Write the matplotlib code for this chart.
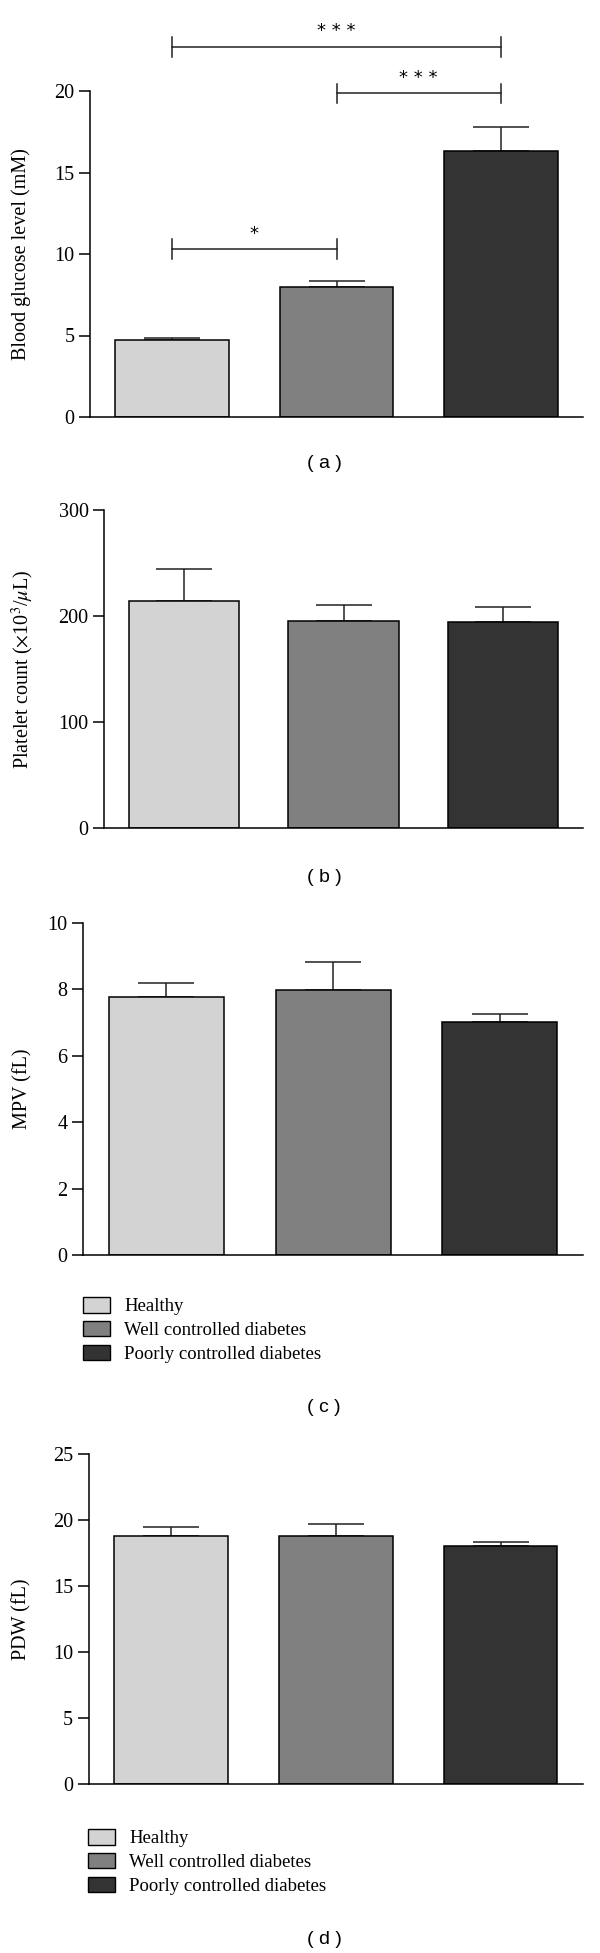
import matplotlib
matplotlib.use('Agg')
import matplotlib.pyplot as plt
from matplotlib.patches import Patch

plt.rcParams['font.family'] = 'Liberation Serif'
plt.rcParams['mathtext.fontset'] = 'stix'

groups = ['Healthy', 'Well controlled diabetes', 'Poorly controlled diabetes']
colors = ['#d3d3d3', '#808080', '#333333']

glucose = [4.71, 7.98, 16.32]
glucose_err = [0.16, 0.35, 1.49]
platelet = [214.4, 195.5, 193.9]
platelet_err = [30.2, 15.1, 14.8]
mpv = [7.76, 7.98, 7.01]
mpv_err = [0.44, 0.84, 0.25]
pdw = [18.82, 18.82, 18.05]
pdw_err = [0.65, 0.91, 0.27]

# significance brackets for panel (a): (from, to, label, height)
brackets = [(0, 1, '*', 10.3), (1, 2, '* * *', 19.86), (0, 2, '* * *', 22.7)]

W, H = 600, 1953
fig = plt.figure(figsize=(W / 100, H / 100), dpi=100)


def panel(left, right, top, bottom, vals, errs, ymax, step, ylabel, labx):
    ax = fig.add_axes([left / W, 1 - bottom / H, (right - left) / W, (bottom - top) / H])
    x = range(len(vals))
    ax.bar(x, vals, width=0.69, color=colors, edgecolor='black', linewidth=1.1, zorder=2)
    ax.errorbar(x, vals, yerr=[[0] * len(errs), errs], fmt='none', ecolor='#222222',
                elinewidth=1.1, capsize=20, capthick=1.1, zorder=1)
    ax.set_xlim(-0.5, 2.5)
    ax.set_ylim(0, ymax)
    ax.set_yticks(range(0, ymax + 1, step))
    ax.set_xticks([])
    for s in ['top', 'right']:
        ax.spines[s].set_visible(False)
    ax.spines['left'].set_linewidth(1.1)
    ax.spines['bottom'].set_linewidth(1.1)
    ax.tick_params(axis='y', direction='out', length=8, width=1.1, labelsize=14.5, pad=3)
    ax.set_ylabel(ylabel, fontsize=14.5)
    ax.yaxis.set_label_coords(labx, 0.5)
    return ax


def sublabel(y, text):
    fig.text(324 / W, 1 - y / H, text, ha='center', va='center',
             fontsize=14, family='Liberation Sans')


def legend(ax, x, y):
    handles = [Patch(facecolor=c, edgecolor='black', linewidth=1.0) for c in colors]
    ax.legend(handles, groups, loc='upper left', bbox_to_anchor=(x / W, 1 - y / H),
              bbox_transform=fig.transFigure, frameon=False, fontsize=13.5,
              handlelength=1.45, handleheight=0.9, labelspacing=0.3,
              handletextpad=0.75, borderpad=0, borderaxespad=0)


# (a)
ax = panel(90, 583, 91, 417, glucose, glucose_err, 20, 5, 'Blood glucose level (mM)', -0.119)
for a, b, lab, h in brackets:
    ax.plot([a, b], [h, h], color='#222222', lw=1.1, clip_on=False)
    ax.plot([a, a], [h - 0.6, h + 0.6], color='#222222', lw=1.1, clip_on=False)
    ax.plot([b, b], [h - 0.6, h + 0.6], color='#222222', lw=1.1, clip_on=False)
    ax.text((a + b) / 2, h + 0.4, lab, ha='center', va='bottom', fontsize=13,
            family='DejaVu Sans', clip_on=False)
sublabel(463, '( a )')

# (b)
ax = panel(104, 583, 510, 828, platelet, platelet_err, 300, 100,
           r'Platelet count ($\times$10$^3$/$\mu$L)', -0.141)
sublabel(877, '( b )')

# (c)
ax = panel(83, 583, 923, 1255, mpv, mpv_err, 10, 2, 'MPV (fL)', -0.102)
legend(ax, 83, 1297)
sublabel(1407, '( c )')

# (d)
ax = panel(88.5, 583, 1454, 1784, pdw, pdw_err, 25, 5, 'PDW (fL)', -0.115)
legend(ax, 88, 1829)
sublabel(1939, '( d )')

fig.savefig('out.png', dpi=100)
